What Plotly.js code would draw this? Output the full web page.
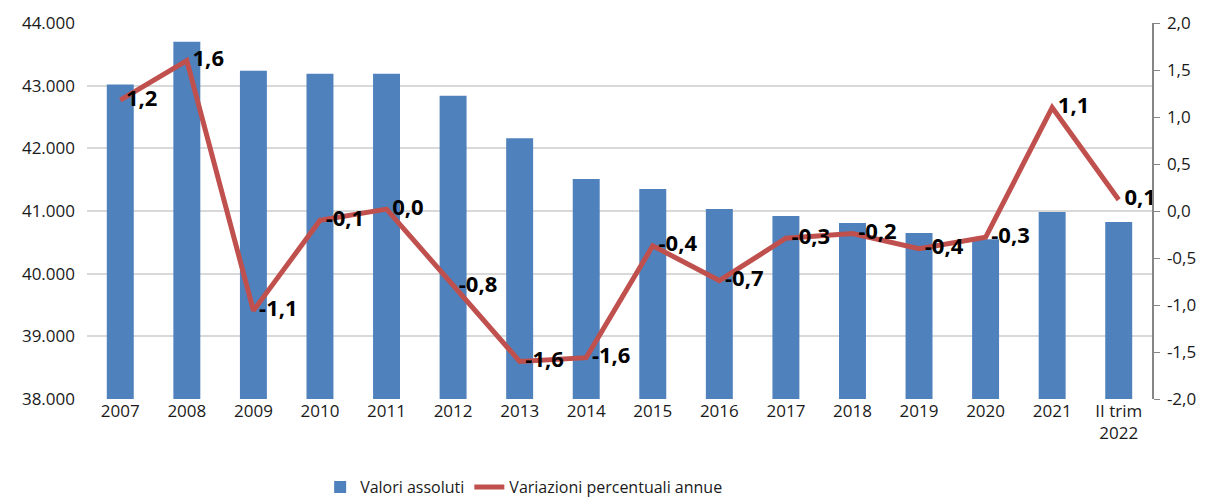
<!DOCTYPE html>
<html>
<head>
<meta charset="utf-8">
<script src="https://cdn.plot.ly/plotly-3.0.1.min.js"></script>
<style>html,body{margin:0;padding:0;background:#fff;}#chart{width:1206px;height:500px;}</style>
</head>
<body>
<div id="chart"></div>
<script>
const categories = ["2007","2008","2009","2010","2011","2012","2013","2014","2015","2016","2017","2018","2019","2020","2021","II trim<br>2022"];
const valoriAssoluti = [43020, 43700, 43240, 43190, 43190, 42840, 42160, 41510, 41350, 41030, 40920, 40810, 40650, 40550, 40985, 40825];
const variazioniPercentuali = [1.18, 1.6, -1.06, -0.1, 0.02, -0.8, -1.6, -1.56, -0.37, -0.74, -0.29, -0.24, -0.4, -0.28, 1.1, 0.12];
const leftTicks = [38000, 39000, 40000, 41000, 42000, 43000, 44000];
const rightTicks = [-2, -1.5, -1, -0.5, 0, 0.5, 1, 1.5, 2];
const rightTickText = ["-2,0", "-1,5", "-1,0", "-0,5", "0,0", "0,5", "1,0", "1,5", "2,0"];

const fontFam = "'Open Sans', sans-serif";

const traces = [
  {
    type: "bar",
    name: "Valori assoluti",
    x: categories,
    y: valoriAssoluti,
    marker: {color: "#4F81BD"},
    hoverinfo: "skip"
  },
  {
    type: "scatter",
    mode: "lines+text",
    name: "Variazioni percentuali annue",
    x: categories,
    y: variazioniPercentuali,
    yaxis: "y2",
    line: {color: "#C0504D", width: 5},
    texttemplate: " %{y:.1f}",
    textposition: "middle right",
    textfont: {family: "'Open Sans', sans-serif", size: 22, color: "#000", weight: "bold"},
    cliponaxis: false,
    hoverinfo: "skip"
  }
];

const layout = {
  width: 1206,
  height: 500,
  margin: {l: 87, r: 54, t: 23, b: 101},
  separators: ",.",
  paper_bgcolor: "#fff",
  plot_bgcolor: "#fff",
  font: {family: fontFam, size: 17, color: "#1a1a1a"},
  bargap: 0.595,
  showlegend: true,
  legend: {orientation: "h", x: 0.41, xanchor: "center", yref: "container", y: 0.06, yanchor: "top", font: {size: 16, color: "#1a1a1a"}, traceorder: "normal"},
  xaxis: {
    type: "category",
    range: [-0.5, 15.5],
    automargin: false,
    tickfont: {size: 17},
    showgrid: false,
    showline: false,
    ticks: "",
    fixedrange: true
  },
  yaxis: {
    range: [38000, 44000],
    automargin: false,
    tickvals: leftTicks,
    tickformat: ",d",
    showgrid: true,
    gridcolor: "#D9D9D9",
    gridwidth: 2,
    zeroline: false,
    showline: false,
    ticks: "",
    ticklabelstandoff: 11,
    tickfont: {size: 17}
  },
  yaxis2: {
    overlaying: "y",
    side: "right",
    automargin: false,
    range: [-2, 2],
    tickvals: rightTicks,
    ticktext: rightTickText,
    showgrid: false,
    zeroline: false,
    showline: true,
    linecolor: "#868686",
    linewidth: 1.5,
    ticks: "outside",
    ticklen: 6,
    tickcolor: "#868686",
    ticklabelstandoff: 4,
    tickfont: {size: 17}
  }
};

Plotly.newPlot("chart", traces, layout, {staticPlot: true, displayModeBar: false});
</script>
</body>
</html>
